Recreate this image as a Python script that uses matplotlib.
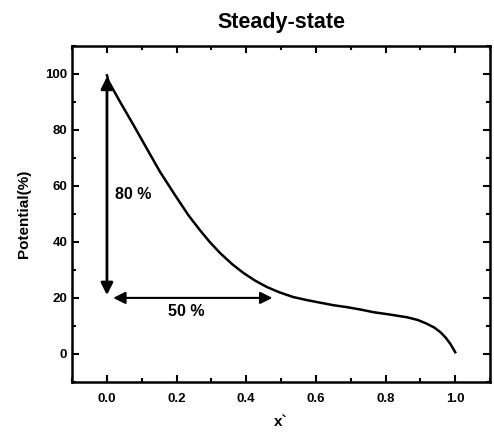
import matplotlib
matplotlib.use("Agg")
import matplotlib.pyplot as plt
from matplotlib.ticker import MultipleLocator

plt.rcParams['font.family'] = ['Liberation Sans', 'DejaVu Sans']

x_vals = [0.0, 0.004, 0.04, 0.076, 0.115, 0.152, 0.195, 0.234, 0.267, 0.295, 0.325,
          0.36, 0.392, 0.425, 0.459, 0.495, 0.535, 0.575, 0.612, 0.65, 0.689,
          0.73, 0.765, 0.81, 0.861, 0.893, 0.918, 0.94, 0.957, 0.972, 0.986, 1.0]
potential = [99.5, 97.5, 89.5, 81.8, 73.2, 65.1, 56.8, 49.5, 44.2, 40.0, 36.0,
             32.0, 28.9, 26.2, 23.9, 22.0, 20.3, 19.2, 18.3, 17.4, 16.7,
             15.8, 14.9, 14.1, 13.1, 12.1, 10.8, 9.4, 7.8, 5.9, 3.6, 0.6]

x_ticks = [0.0, 0.2, 0.4, 0.6, 0.8, 1.0]
y_ticks = [0, 20, 40, 60, 80, 100]
vert_arrow = (0.0, 20.0, 100.0)      # x, y_start, y_end
horiz_arrow = (20.0, 0.01, 0.483)    # y, x_start, x_end
labels = [("80 %", 0.022, 57), ("50 %", 0.175, 15)]

fig = plt.figure(figsize=(4.94, 4.33), dpi=100)
ax = fig.add_axes([0.146, 0.118, 0.846, 0.776])

ax.plot(x_vals, potential, color='black', lw=1.8)

ax.annotate('', xy=(vert_arrow[0], vert_arrow[2]), xytext=(vert_arrow[0], vert_arrow[1]),
            arrowprops=dict(arrowstyle='<|-|>', color='black', lw=2, mutation_scale=18))
ax.annotate('', xy=(horiz_arrow[2], horiz_arrow[0]), xytext=(horiz_arrow[1], horiz_arrow[0]),
            arrowprops=dict(arrowstyle='<|-|>', color='black', lw=1.5, mutation_scale=18))

for txt, tx, ty in labels:
    ax.text(tx, ty, txt, fontsize=11.5, fontweight='bold', ha='left', va='center')

ax.set_xlim(-0.1, 1.1)
ax.set_ylim(-10, 110)
ax.set_xticks(x_ticks)
ax.set_yticks(y_ticks)
ax.set_xticklabels([f"{v:.1f}" for v in x_ticks])
ax.xaxis.set_minor_locator(MultipleLocator(0.1))
ax.yaxis.set_minor_locator(MultipleLocator(10))
ax.tick_params(which='both', direction='in', top=True, right=True, width=1.5,
               labelsize=9.5)
ax.tick_params(which='major', length=5)
ax.tick_params(which='minor', length=3)
for lab in ax.get_xticklabels() + ax.get_yticklabels():
    lab.set_fontweight('bold')
ax.tick_params(axis='x', pad=8)
for s in ax.spines.values():
    s.set_linewidth(1.8)

ax.set_xlabel("x`", fontsize=11, fontweight='bold', labelpad=7)
ax.set_ylabel("Potential(%)", fontsize=11, fontweight='bold', labelpad=10)
ax.set_title("Steady-state", fontsize=15.5, fontweight='bold', pad=13)

fig.savefig("out.png", dpi=100)
